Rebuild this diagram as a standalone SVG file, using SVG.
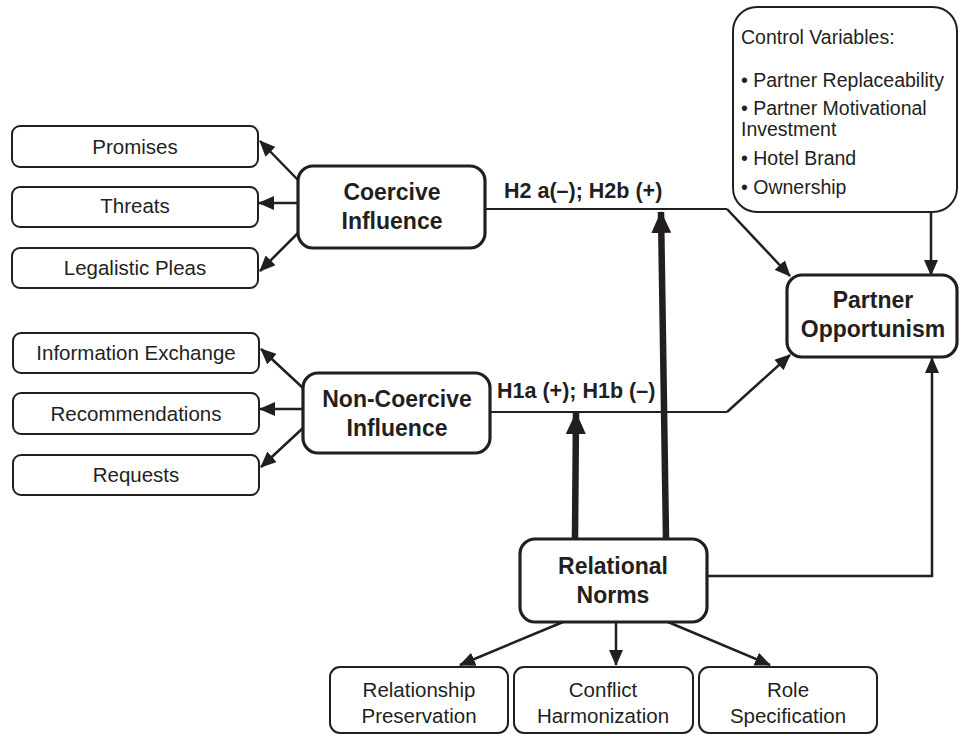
<svg xmlns="http://www.w3.org/2000/svg" width="961" height="736" viewBox="0 0 961 736">
<defs>
<style>
.sub{fill:#fff;stroke:#231f20;stroke-width:2}
.main{fill:#fff;stroke:#231f20;stroke-width:3.2}
.t{font-family:"Liberation Sans",Arial,sans-serif;font-size:20.5px;fill:#231f20}
.cv{font-family:"Liberation Sans",Arial,sans-serif;font-size:19.5px;fill:#231f20}
.b{font-family:"Liberation Sans",Arial,sans-serif;font-size:23px;font-weight:bold;fill:#231f20}
.h{font-family:"Liberation Sans",Arial,sans-serif;font-size:21.5px;font-weight:bold;fill:#231f20}
.c{fill:none;stroke:#231f20;stroke-width:2.5}
.thin{fill:none;stroke:#231f20;stroke-width:1.8}
.thick{fill:none;stroke:#231f20;stroke-width:6.5}
</style>
<marker id="arr" markerUnits="userSpaceOnUse" markerWidth="16" markerHeight="14" refX="15" refY="7" orient="auto" viewBox="0 0 16 14">
<path d="M0,0 L16,7 L0,14 z" fill="#231f20"/>
</marker>
<marker id="big" markerUnits="userSpaceOnUse" markerWidth="22" markerHeight="20" refX="21" refY="10" orient="auto" viewBox="0 0 22 20">
<path d="M0,0 L22,10 L0,20 z" fill="#231f20"/>
</marker>
</defs>
<rect width="961" height="736" fill="#fff"/>

<g id="connectors">
<line class="c" x1="298" y1="180" x2="260" y2="141" marker-end="url(#arr)"/>
<line class="c" x1="298" y1="203" x2="259" y2="203" marker-end="url(#arr)"/>
<line class="c" x1="298" y1="233" x2="260" y2="271" marker-end="url(#arr)"/>
<line class="c" x1="303" y1="388" x2="261" y2="349" marker-end="url(#arr)"/>
<line class="c" x1="303" y1="409" x2="260" y2="409" marker-end="url(#arr)"/>
<line class="c" x1="303" y1="428" x2="261" y2="467" marker-end="url(#arr)"/>
<polyline class="thin" points="485,209 727,209" />
<line class="c" x1="727" y1="209" x2="790" y2="276" marker-end="url(#arr)"/>
<polyline class="thin" points="490,412 727,412" />
<line class="c" x1="727" y1="412" x2="790" y2="355" marker-end="url(#arr)"/>
<line class="c" x1="931" y1="212" x2="931" y2="275" marker-end="url(#arr)"/>
<polyline class="c" points="708,576 932,576 932,358" marker-end="url(#arr)"/>
<line class="thick" x1="575" y1="538" x2="576" y2="413" marker-end="url(#big)"/>
<line class="thick" x1="666" y1="538" x2="661" y2="212" marker-end="url(#big)"/>
<line class="c" x1="563" y1="622" x2="460" y2="665" marker-end="url(#arr)"/>
<line class="c" x1="616" y1="622" x2="616" y2="665" marker-end="url(#arr)"/>
<line class="c" x1="668" y1="622" x2="770" y2="665" marker-end="url(#arr)"/>
</g>

<g id="label-h2"><text class="h" x="504" y="198">H2 a(–); H2b (+)</text></g>
<g id="label-h1"><text class="h" x="497" y="398">H1a (+); H1b (–)</text></g>

<g id="promises"><rect class="sub" x="12" y="126" width="246" height="41" rx="8"/><text class="t" x="135" y="154" text-anchor="middle">Promises</text></g>
<g id="threats"><rect class="sub" x="12" y="187" width="246" height="40" rx="8"/><text class="t" x="135" y="213" text-anchor="middle">Threats</text></g>
<g id="legalistic"><rect class="sub" x="12" y="248" width="246" height="40" rx="8"/><text class="t" x="135" y="275" text-anchor="middle">Legalistic Pleas</text></g>

<g id="info"><rect class="sub" x="13" y="333" width="246" height="40" rx="8"/><text class="t" x="136" y="360" text-anchor="middle">Information Exchange</text></g>
<g id="recommendations"><rect class="sub" x="13" y="393" width="246" height="41" rx="8"/><text class="t" x="136" y="421" text-anchor="middle">Recommendations</text></g>
<g id="requests"><rect class="sub" x="13" y="455" width="246" height="40" rx="8"/><text class="t" x="136" y="482" text-anchor="middle">Requests</text></g>

<g id="coercive"><rect class="main" x="298" y="166" width="187" height="82" rx="15"/><text class="b" x="392" y="200" text-anchor="middle">Coercive</text><text class="b" x="392" y="229" text-anchor="middle">Influence</text></g>
<g id="noncoercive"><rect class="main" x="303" y="373" width="187" height="80" rx="15"/><text class="b" x="397" y="407" text-anchor="middle">Non-Coercive</text><text class="b" x="397" y="436" text-anchor="middle">Influence</text></g>

<g id="control"><rect class="sub" x="733" y="7" width="224" height="205" rx="24"/>
<text class="cv" x="741" y="44">Control Variables:</text>
<text class="cv" x="741" y="87">• Partner Replaceability</text>
<text class="cv" x="741" y="115">• Partner Motivational</text>
<text class="cv" x="741" y="136">Investment</text>
<text class="cv" x="741" y="165">• Hotel Brand</text>
<text class="cv" x="741" y="194">• Ownership</text>
</g>

<g id="opportunism"><rect class="main" x="787" y="275" width="170" height="82" rx="15"/><text class="b" x="873" y="308" text-anchor="middle">Partner</text><text class="b" x="873" y="337" text-anchor="middle">Opportunism</text></g>

<g id="relational"><rect class="main" x="520" y="539" width="187" height="83" rx="15"/><text class="b" x="613" y="574" text-anchor="middle">Relational</text><text class="b" x="613" y="603" text-anchor="middle">Norms</text></g>

<g id="preservation"><rect class="sub" x="330" y="667" width="178" height="66" rx="10"/><text class="t" x="419" y="697" text-anchor="middle">Relationship</text><text class="t" x="419" y="723" text-anchor="middle">Preservation</text></g>
<g id="harmonization"><rect class="sub" x="514" y="667" width="179" height="66" rx="10"/><text class="t" x="603" y="697" text-anchor="middle">Conflict</text><text class="t" x="603" y="723" text-anchor="middle">Harmonization</text></g>
<g id="role"><rect class="sub" x="699" y="667" width="178" height="66" rx="10"/><text class="t" x="788" y="697" text-anchor="middle">Role</text><text class="t" x="788" y="723" text-anchor="middle">Specification</text></g>
</svg>
